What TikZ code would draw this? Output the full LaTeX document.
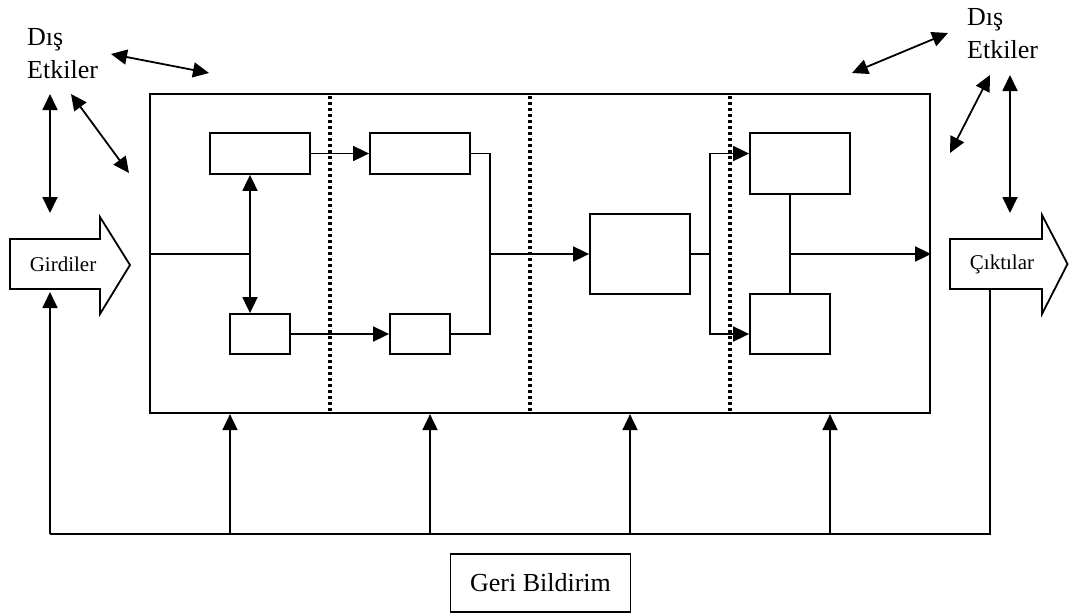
\documentclass[tikz,border=0pt]{standalone}
\usepackage{fontspec}
\setmainfont{Liberation Serif}
\usetikzlibrary{arrows.meta,calc}
\begin{document}
\begin{tikzpicture}[x=1pt,y=-1pt,
  every node/.style={inner sep=0pt},
  box/.style={draw,line width=1.8pt,minimum width=#1},
  arr/.style={-{Triangle[length=16pt,width=15pt]}},
  darr/.style={{Triangle[length=16pt,width=15pt]}-{Triangle[length=16pt,width=15pt]}},
  ln/.style={line width=1.8pt},
  dotline/.style={line width=3.5pt,dash pattern=on 3pt off 3pt},
  bigfont/.style={font=\fontsize{26}{33}\selectfont},
  smallfont/.style={font=\fontsize{21}{26}\selectfont}]
\useasboundingbox (0,0) rectangle (1069,614);
% main box
\node[draw,line width=2.2pt,minimum width=780pt,minimum height=319pt] (main) at (540,253.5) {};
% dotted separators
\foreach \x in {330,530,730} \draw[dotline] (\x,96) -- (\x,411);
% inner boxes
\node[box=100pt,minimum height=41pt] (A) at (260,153.5) {};
\node[box=100pt,minimum height=41pt] (B) at (420,153.5) {};
\node[box=60pt,minimum height=40pt] (C) at (260,334) {};
\node[box=60pt,minimum height=40pt] (D) at (420,334) {};
\node[box=100pt,minimum height=80pt] (E) at (640,254) {};
\node[box=100pt,minimum height=61pt] (F) at (800,163.5) {};
\node[box=80pt,minimum height=60pt] (G) at (790,324) {};
\coordinate (j1) at (250,254);
\coordinate (j2) at (490,254);
\coordinate (j3) at (710,254);
\coordinate (j4) at (790,254);
\draw[ln] (j1 -| main.west) -- (j1);
\draw[ln,darr] (A.south -| j1) -- (C.north -| j1);
\draw[ln,arr] (A.east) -- (B.west);
\draw[ln,arr] (C.east) -- (D.west);
\draw[ln] (B.east) -| (j2) |- (D.east);
\draw[ln,arr] (j2) -- (E.west);
\draw[ln] (E.east) -- (j3);
\draw[ln,arr] (j3) |- (F.west |- A.east);
\draw[ln,arr] (j3) |- (G.west |- C.east);
\draw[ln] (F.south -| G.north) -- (G.north);
\draw[ln,arr] (j4) -- (j4 -| main.east);
% input / output arrows
\draw[ln] (10,239) -- (100,239) -- (100,217) -- (130,265) -- (100,314) -- (100,289) -- (10,289) -- cycle;
\node[smallfont] (gir) at (63,264) {Girdiler};
\draw[ln] (950,239) -- (1042,239) -- (1042,215) -- (1067.5,264) -- (1042,314) -- (1042,289) -- (950,289) -- cycle;
\node[smallfont] (cik) at (1002,264) {Çıktılar};
\coordinate (girB) at (50,292);
\coordinate (cikB) at (990,290);
% feedback
\coordinate (fbL) at (50,534);
\coordinate (fbR) at (990,534);
\draw[ln,arr] (fbL) -- (girB);
\draw[ln] (fbL) -- (fbR) -- (cikB);
\foreach \x in {230,430,630,830} {
  \coordinate (fb\x) at (\x,534);
  \draw[ln,arr] (fb\x) -- (fb\x |- main.south);
}
\node[draw,line width=1.8pt,minimum width=180pt,minimum height=58pt,bigfont] (geri) at (540.5,583) {Geri Bildirim};
% external influences
\node[bigfont,align=left,anchor=north west] (dl) at (27,28) {Dış\\Etkiler};
\node[bigfont,align=left,anchor=north west] (dr) at (967,8) {Dış\\Etkiler};
\draw[ln,darr] (111,54) -- (209,73);
\draw[ln,darr] (71,94) -- (129,173);
\draw[ln,darr] (50,94) -- (50,213);
\draw[ln,darr] (852,73) -- (948,33);
\draw[ln,darr] (990,75) -- (950,153);
\draw[ln,darr] (1010,75) -- (1010,213);
\end{tikzpicture}
\end{document}
